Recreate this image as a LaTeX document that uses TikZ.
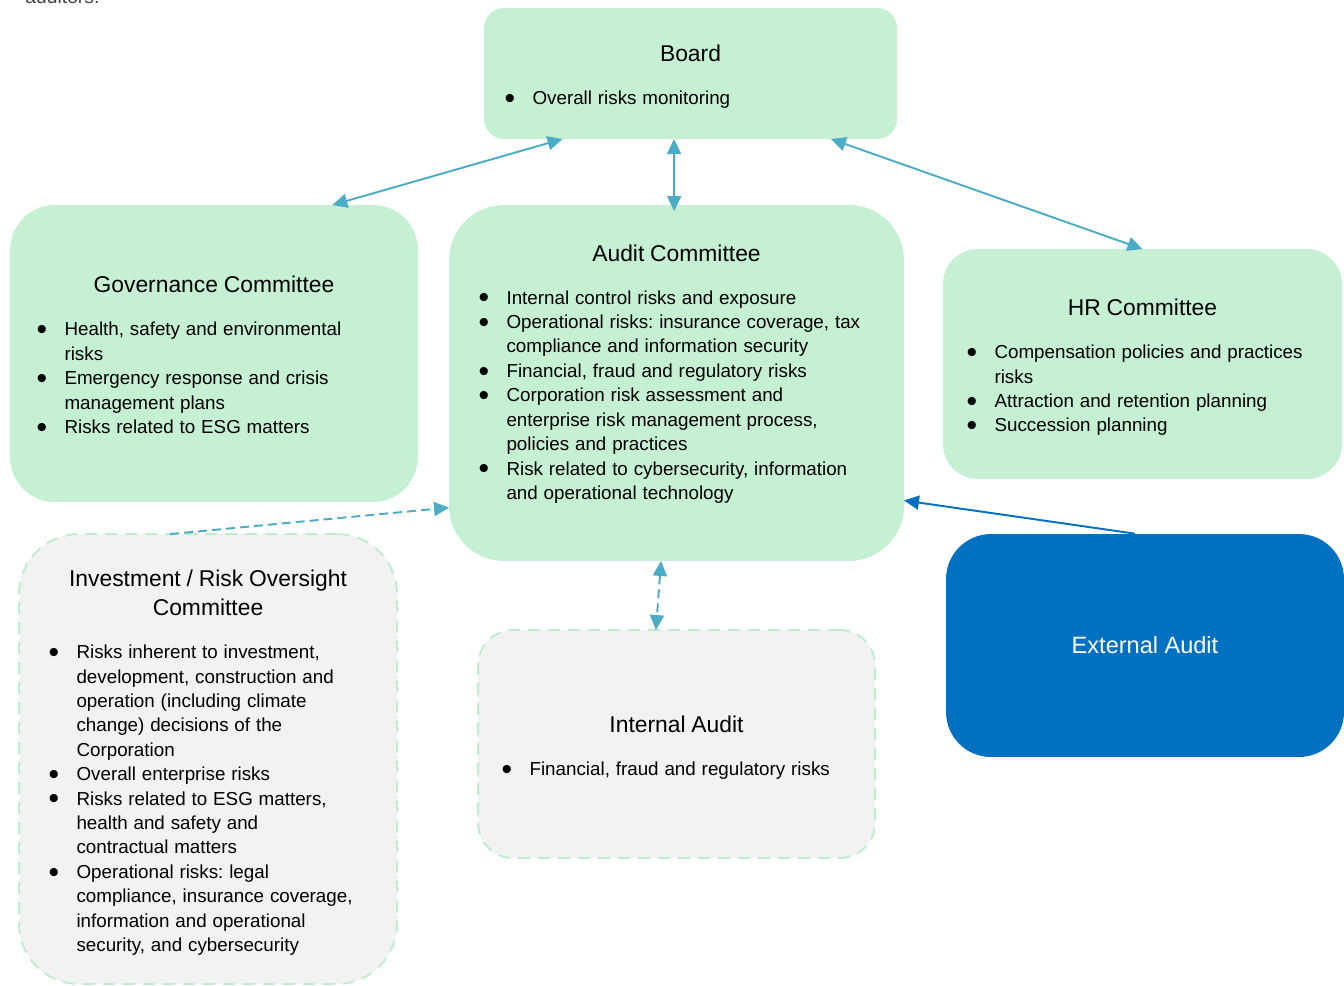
\documentclass[tikz,border=0pt]{standalone}
\usepackage{fontspec}
\usepackage{graphicx}
\setmainfont{Liberation Sans}
\usetikzlibrary{arrows.meta,calc}
\frenchspacing

\definecolor{boxgreen}{HTML}{C5F0D3}
\definecolor{boxgray}{HTML}{F2F2F2}
\definecolor{dashgreen}{HTML}{C0EDCD}
\definecolor{linkblue}{HTML}{4BACC6}
\definecolor{extblue}{HTML}{0070C0}
\definecolor{notegray}{HTML}{404040}

% bullet list used inside the boxes
\newcommand{\riskbullet}{\smash{\raisebox{-0.2em}{\scalebox{1.6}{\textbullet}}}}
\newenvironment{risklist}{%
  \fontsize{10.7}{13.9}\selectfont
  \begin{list}{\riskbullet}{%
    \setlength{\leftmargin}{0.56cm}\setlength{\labelsep}{0pt}%
    \setlength{\labelwidth}{0.56cm}\setlength{\itemsep}{0pt}%
    \setlength{\parsep}{0pt}\setlength{\topsep}{0pt}\setlength{\partopsep}{0pt}%
    \renewcommand{\makelabel}[1]{##1\hfil}}}%
  {\end{list}}
\newcommand{\boxtitle}[1]{{\centering\fontsize{13}{16.4}\selectfont #1\par}\vspace{10.5pt}}
% extra room above / below a box's text (moves the text down / up)
\newcommand{\topgap}[1]{\hrule height 0pt\vspace{#1}}
\newcommand{\bottomgap}[1]{\par\vspace{#1}\hrule height 0pt}

\begin{document}
\begin{tikzpicture}[x=0.02cm, y=-0.02cm, >={Triangle[length=0.3cm, width=0.28cm]},
    greenbox/.style={fill=boxgreen, inner sep=0pt, outer sep=0pt, align=left},
    graybox/.style={fill=boxgray, draw=dashgreen, line width=1.1pt,
        dash pattern=on 0.24cm off 0.16cm, inner sep=0pt, outer sep=0pt, align=left},
    link/.style={<->, linkblue, line width=1.1pt},
    dashlink/.style={linkblue, line width=1.1pt, dash pattern=on 0.18cm off 0.1cm}]
    % page frame
    \useasboundingbox (0,0) rectangle (1344,985);

    % cut-off text from the page above
    \begin{scope}
        \clip (0,0) rectangle (1344,985);
        \node[notegray, anchor=base west, inner sep=0pt, font=\fontsize{11}{13}\selectfont] (note) at (25,3) {auditors.};
    \end{scope}

    % Committees and audit boxes
    \node[greenbox, rounded corners=0.4cm, minimum width=8.26cm, minimum height=2.62cm, text width=7.44cm] (board) at (690.5,73.5)
        {\topgap{3.4pt}\boxtitle{Board}\begin{risklist}\item Overall risks monitoring\end{risklist}};

    \node[greenbox, rounded corners=0.9cm, minimum width=8.16cm, minimum height=5.94cm, text width=7.1cm] (gov) at (214,353.5)
        {\topgap{1.7pt}\boxtitle{Governance Committee}\begin{risklist}
         \item Health, safety and environmental\\ risks
         \item Emergency response and crisis\\ management plans
         \item Risks related to ESG matters\end{risklist}};

    \node[greenbox, rounded corners=1.1cm, minimum width=9.1cm, minimum height=7.12cm, text width=7.92cm] (audit) at (676.5,383)
        {\boxtitle{Audit Committee}\begin{risklist}
         \item Internal control risks and exposure
         \item Operational risks: insurance coverage, tax\\ compliance and information security
         \item Financial, fraud and regulatory risks
         \item Corporation risk assessment and\\ enterprise risk management process,\\ policies and practices
         \item Risk related to cybersecurity, information\\ and operational technology\end{risklist}\bottomgap{10.2pt}};

    \node[greenbox, rounded corners=0.7cm, minimum width=7.98cm, minimum height=4.6cm, text width=7.04cm] (hr) at (1142.5,364)
        {\topgap{4pt}\boxtitle{HR Committee}\begin{risklist}
         \item Compensation policies and practices\\ risks
         \item Attraction and retention planning
         \item Succession planning\end{risklist}};

    \node[graybox, rounded corners=1.2cm, minimum width=7.56cm, minimum height=9cm, text width=6.38cm] (invest) at (208,759)
        {\topgap{4.5pt}\boxtitle{Investment / Risk Oversight\\ Committee}\begin{risklist}
         \item Risks inherent to investment,\\ development, construction and\\ operation (including climate\\ change) decisions of the\\ Corporation
         \item Overall enterprise risks
         \item Risks related to ESG matters,\\ health and safety and\\ contractual matters
         \item Operational risks: legal\\ compliance, insurance coverage,\\ information and operational\\ security, and cybersecurity\end{risklist}};

    \node[graybox, rounded corners=0.7cm, minimum width=7.94cm, minimum height=4.56cm, text width=7cm] (internal) at (676.5,744)
        {\topgap{4.5pt}\boxtitle{Internal Audit}\begin{risklist}
         \item Financial, fraud and regulatory risks\end{risklist}};

    \node[fill=extblue, text=white, rounded corners=0.9cm, minimum width=7.96cm, minimum height=4.46cm,
          font=\fontsize{13.4}{16}\selectfont] (external) at (1145,645.5) {External Audit};

    % Links between the boxes
    \draw[link] ($(board.south west)!0.19!(board.south east)$) -- ($(gov.north west)!0.79!(gov.north east)$);
    \draw[link, shorten >=-0.12cm] ($(board.south west)!0.46!(board.south east)$) -- ($(audit.north west)!0.495!(audit.north east)$);
    \draw[link] ($(board.south west)!0.84!(board.south east)$) -- (hr.north);
    \draw[dashlink, ->] ($(invest.north west)!0.4!(invest.north east)$) -- ($(audit.north west)!0.85!(audit.south west)$);
    \draw[dashlink, <->] ($(audit.south west)!0.466!(audit.south east)$) -- ($(internal.north west)!0.448!(internal.north east)$);
    \draw[->, extblue, line width=1.1pt] ($(external.north west)!0.475!(external.north east)$) -- ($(audit.north east)!0.83!(audit.south east)$);
\end{tikzpicture}
\end{document}
